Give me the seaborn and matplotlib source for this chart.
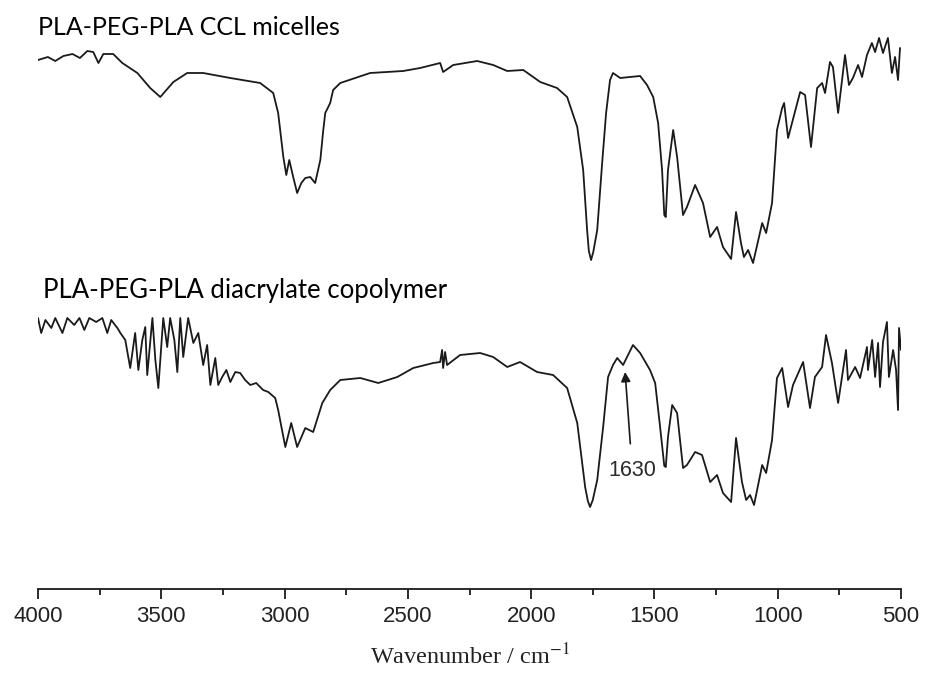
import numpy as np
import pandas as pd
import matplotlib
matplotlib.use('Agg')
import matplotlib.pyplot as plt
from matplotlib.ticker import MultipleLocator
from matplotlib import font_manager
import seaborn as sns

# FTIR spectra (wavenumber in cm-1, transmittance in a.u.)
wn_ccl = [4000, 3960, 3930, 3897, 3860, 3830, 3800, 3776, 3755, 3735, 3695, 3658, 3597, 3545,
          3504, 3451, 3395, 3330, 3220, 3099, 3046, 3026, 3005, 2993, 2981, 2965, 2949, 2932,
          2916, 2896, 2876, 2855, 2843, 2835, 2815, 2803, 2774, 2653, 2519, 2450, 2369, 2357,
          2316, 2219, 2154, 2097, 2032, 1963, 1895, 1854, 1813, 1789, 1773, 1766, 1757, 1748,
          1732, 1712, 1696, 1680, 1668, 1639, 1599, 1558, 1530, 1505, 1485, 1469, 1460, 1454,
          1445, 1424, 1408, 1384, 1368, 1335, 1303, 1274, 1246, 1222, 1189, 1169, 1149, 1137,
          1120, 1100, 1063, 1047, 1023, 1003, 982, 974, 958, 909, 889, 865, 840, 820, 808, 788,
          776, 755, 727, 711, 695, 674, 658, 638, 618, 605, 589, 573, 553, 537, 524, 512, 504]
t_ccl = [105.8, 106.4, 105.6, 106.6, 107.0, 106.2, 107.6, 107.4, 105.2, 107.0, 107.0, 105.2, 103.2,
         100.2, 98.4, 101.4, 103.2, 103.2, 102.2, 101.2, 99.2, 95.2, 86.4, 82.8, 85.8, 82.4, 79.2,
         81.2, 82.2, 82.4, 81.2, 85.8, 91.8, 95.2, 97.2, 99.8, 101.2, 103.2, 103.6, 104.2, 105.2,
         103.4, 104.8, 105.6, 104.8, 103.6, 103.8, 101.4, 100.2, 98.4, 92.4, 83.8, 71.8, 67.6,
         65.8, 67.4, 71.8, 85.2, 95.2, 101.8, 103.2, 102.2, 102.4, 102.6, 100.8, 98.4, 93.2, 83.8,
         74.8, 74.4, 83.8, 91.8, 86.4, 74.8, 76.4, 80.8, 77.2, 70.4, 72.4, 68.4, 66.0, 75.4, 69.2,
         66.4, 67.8, 65.2, 73.2, 71.2, 77.2, 91.8, 96.2, 97.2, 90.2, 99.4, 98.8, 88.4, 100.2,
         101.2, 99.2, 105.4, 104.4, 95.2, 106.8, 100.8, 102.2, 104.8, 102.4, 106.8, 109.2, 107.4,
         110.2, 107.2, 110.2, 103.2, 106.4, 101.8, 108.2]

wn_da = [4000, 3987, 3970, 3946, 3930, 3901, 3881, 3853, 3832, 3812, 3792, 3764, 3739, 3719, 3703,
         3678, 3666, 3646, 3626, 3606, 3593, 3577, 3565, 3557, 3536, 3524, 3512, 3492, 3476, 3464,
         3447, 3435, 3423, 3411, 3391, 3370, 3350, 3330, 3314, 3301, 3281, 3269, 3253, 3236, 3220,
         3200, 3180, 3160, 3139, 3115, 3087, 3066, 3038, 3026, 2997, 2973, 2949, 2916, 2884, 2847,
         2815, 2774, 2693, 2620, 2543, 2478, 2397, 2369, 2361, 2357, 2349, 2341, 2288, 2207, 2154,
         2097, 2045, 1976, 1911, 1854, 1813, 1781, 1770, 1761, 1750, 1732, 1708, 1688, 1668, 1651,
         1627, 1587, 1558, 1518, 1497, 1477, 1460, 1454, 1445, 1428, 1408, 1384, 1368, 1335, 1307,
         1274, 1246, 1222, 1189, 1169, 1145, 1128, 1112, 1096, 1063, 1047, 1023, 1003, 982, 958,
         938, 897, 869, 849, 820, 804, 780, 755, 723, 715, 686, 666, 638, 634, 617, 605, 593, 585,
         573, 557, 549, 532, 520, 512, 508, 500]
t_da = [54.2, 51.2, 53.8, 52.2, 54.2, 51.2, 54.2, 52.8, 54.2, 51.8, 54.2, 53.4, 54.2, 51.2, 53.8,
        52.2, 51.2, 49.8, 44.2, 51.2, 43.8, 49.8, 52.4, 42.8, 54.2, 45.8, 40.2, 54.2, 48.4, 54.2,
        49.8, 43.4, 54.2, 46.4, 54.2, 49.2, 51.2, 44.8, 48.8, 40.8, 46.2, 40.8, 42.4, 43.8, 41.4,
        43.4, 43.2, 41.8, 40.8, 41.2, 39.8, 39.4, 38.2, 35.8, 28.4, 33.2, 28.4, 32.2, 31.4, 37.2,
        39.8, 41.8, 42.2, 41.2, 42.4, 44.2, 45.2, 45.4, 47.8, 44.2, 47.4, 44.8, 46.8, 47.2, 46.4,
        44.4, 45.4, 43.4, 42.8, 40.2, 33.2, 20.4, 17.6, 16.4, 17.8, 21.8, 32.4, 42.4, 44.8, 46.2,
        44.8, 48.8, 47.2, 43.8, 41.2, 32.4, 24.6, 24.4, 30.4, 36.8, 35.2, 24.2, 24.8, 27.4, 26.8,
        21.4, 22.8, 19.2, 17.4, 30.2, 21.4, 17.8, 18.8, 16.8, 24.8, 23.2, 29.8, 42.2, 44.2, 36.4,
        40.8, 45.4, 36.2, 42.4, 44.4, 50.8, 45.2, 37.2, 47.8, 41.8, 44.4, 42.2, 48.4, 43.8, 49.8,
        42.4, 49.2, 40.4, 49.4, 53.4, 42.4, 47.8, 43.8, 35.8, 52.2, 47.8]

labels = ['PLA-PEG-PLA CCL micelles', 'PLA-PEG-PLA diacrylate copolymer']
peak_wn = 1630

sns.set_theme(style='white')
installed = {f.name for f in font_manager.fontManager.ttflist}
tick_family = ['Liberation Sans Narrow', 'Liberation Sans'] if 'Liberation Sans Narrow' in installed else ['Liberation Sans']
plt.rcParams['font.family'] = ['Lato', 'DejaVu Sans']
plt.rcParams['mathtext.fontset'] = 'stix'

df = pd.concat([
    pd.DataFrame({'wavenumber': wn_ccl, 'T': t_ccl, 'sample': labels[0]}),
    pd.DataFrame({'wavenumber': wn_da, 'T': t_da, 'sample': labels[1]}),
])

fig = plt.figure(figsize=(9.25, 6.77), dpi=100)
ax = fig.add_axes([38 / 925, 88 / 677, 863 / 925, 589 / 677])
sns.lineplot(data=df, x='wavenumber', y='T', units='sample', estimator=None, sort=False,
             color='#1a1a1a', lw=1.3, ax=ax, legend=False)

ax.set_xlim(4000, 500)
ax.set_ylim(0, 117.8)
for s in ['left', 'top', 'right']:
    ax.spines[s].set_visible(False)
ax.spines['bottom'].set_color('#1a1a1a')
ax.spines['bottom'].set_linewidth(1.3)
ax.set_yticks([])
ax.set_ylabel('')
ax.xaxis.set_major_locator(MultipleLocator(500))
ax.xaxis.set_minor_locator(MultipleLocator(250))
ax.tick_params(axis='x', which='major', direction='out', length=7.5, width=1.3, color='#1a1a1a',
               labelsize=16, pad=5, bottom=True)
ax.tick_params(axis='x', which='minor', direction='out', length=4.5, width=1.3, color='#1a1a1a',
               bottom=True)
for lab in ax.get_xticklabels():
    lab.set_family(tick_family)
    lab.set_color('#222222')
ax.set_xlabel('Wavenumber / cm$^{-1}$', family=['Liberation Serif'], fontsize=17.5, color='#222222',
              labelpad=12)

ax.text(4000, 110.8, labels[0], ha='left', va='baseline', fontsize=18, color='black')
ax.text(3978, 58.2, labels[1], ha='left', va='baseline', fontsize=18.5, color='black')

ax.annotate(str(peak_wn), xy=(1619, 43.4), xytext=(1590, 23.8), ha='center', va='center',
            fontsize=15.5, family=['Liberation Sans'], color='#2a2a2a',
            arrowprops=dict(arrowstyle='-|>', color='#1a1a1a', lw=1.2, mutation_scale=14,
                            shrinkA=9, shrinkB=0))

fig.savefig('out.png', dpi=100, facecolor='white')
